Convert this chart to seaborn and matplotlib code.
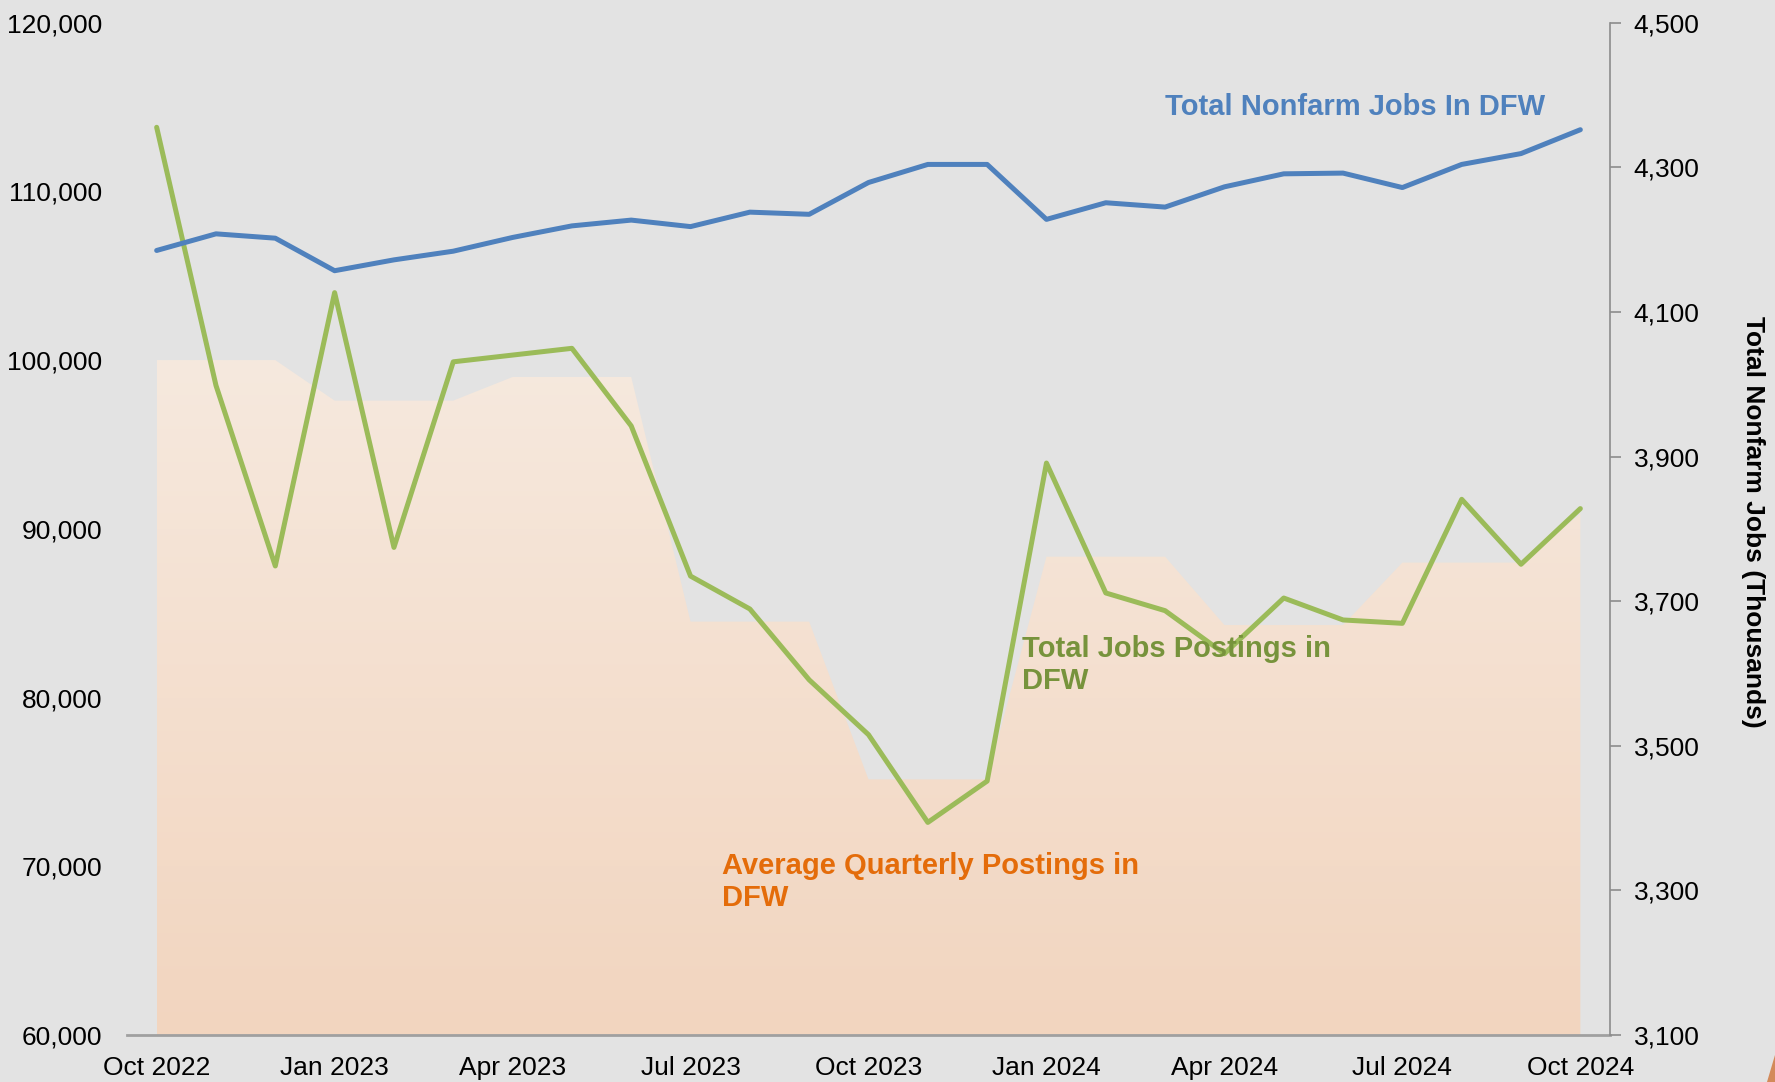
import numpy as np
import pandas as pd
import matplotlib
matplotlib.use("Agg")
import matplotlib.pyplot as plt
import seaborn as sns
from matplotlib.ticker import FuncFormatter
from matplotlib.colors import LinearSegmentedColormap
from matplotlib.patches import Polygon

# ---------------- data ----------------
months = ["Oct 2022", "Nov 2022", "Dec 2022", "Jan 2023", "Feb 2023", "Mar 2023",
          "Apr 2023", "May 2023", "Jun 2023", "Jul 2023", "Aug 2023", "Sep 2023",
          "Oct 2023", "Nov 2023", "Dec 2023", "Jan 2024", "Feb 2024", "Mar 2024",
          "Apr 2024", "May 2024", "Jun 2024", "Jul 2024", "Aug 2024", "Sep 2024",
          "Oct 2024"]
job_postings = [113800, 98500, 87800, 104000, 88900, 99900, 100300, 100700, 96100,
                87200, 85250, 81050, 77800, 72600, 75050, 93900, 86200, 85150,
                82600, 85900, 84600, 84400, 91750, 87900, 91200]
avg_quarterly_postings = [100000, 100000, 100000, 97600, 97600, 97600, 99000, 99000,
                          99000, 84500, 84500, 84500, 75150, 75150, 75150, 88350,
                          88350, 88350, 84300, 84300, 84300, 88000, 88000, 88000,
                          90900]
nonfarm_jobs = [4185, 4208, 4202, 4157, 4172, 4184, 4203, 4219, 4227, 4218, 4238,
                4235, 4279, 4304, 4304, 4228, 4251, 4245, 4273, 4291, 4292, 4272,
                4304, 4319, 4352]
x_tick_labels = ["Oct 2022", "Jan 2023", "Apr 2023", "Jul 2023", "Oct 2023",
                 "Jan 2024", "Apr 2024", "Jul 2024", "Oct 2024"]
left_ticks = [60000, 70000, 80000, 90000, 100000, 110000, 120000]
right_ticks = [3100, 3300, 3500, 3700, 3900, 4100, 4300, 4500]

# ---------------- style ----------------
sns.set_style("white")
plt.rcParams['font.family'] = ['Liberation Sans', 'DejaVu Sans']

BG = "#E3E3E3"
BLUE = "#4F81BD"
GREEN = "#9BBB59"
GREEN_TXT = "#77933C"
ORANGE_TXT = "#E46C0A"
AREA_TOP = "#F6E9DE"
AREA_BOTTOM = "#F2D5BF"

W, H = 1775, 1082
fig = plt.figure(figsize=(W / 100, H / 100), dpi=100, facecolor=BG)

left, right, top, bottom = 127, 1610, 22.7, 1035
ax = fig.add_axes([left / W, 1 - bottom / H, (right - left) / W, (bottom - top) / H])
ax.set_facecolor("none")

df = pd.DataFrame({
    "idx": np.arange(len(months)),
    "month": months,
    "postings": job_postings,
    "avg": avg_quarterly_postings,
    "nonfarm": nonfarm_jobs,
})

ymin, ymax = left_ticks[0], left_ticks[-1]

# area with vertical gradient
area = ax.fill_between(df["idx"], ymin, df["avg"], facecolor="none",
                       edgecolor="none", linewidth=0, zorder=1)
cmap = LinearSegmentedColormap.from_list("area", [AREA_BOTTOM, AREA_TOP])
grad = np.linspace(0, 1, 256).reshape(-1, 1)
im = ax.imshow(grad, extent=[df["idx"].min(), df["idx"].max(), ymin, max(avg_quarterly_postings)],
               origin="lower", aspect="auto", cmap=cmap, zorder=1, interpolation="bilinear")
im.set_clip_path(area.get_paths()[0], ax.transData)

# green postings line
sns.lineplot(data=df, x="idx", y="postings", ax=ax, color=GREEN, linewidth=3.6,
             zorder=3, solid_capstyle="round", solid_joinstyle="round")

ax.set_xlim(-0.5, len(months) - 0.5)
ax.set_ylim(ymin, ymax)
ax.set_xlabel("")
ax.set_ylabel("")

# right axis: blue nonfarm jobs
ax2 = ax.twinx()
sns.lineplot(data=df, x="idx", y="nonfarm", ax=ax2, color=BLUE, linewidth=3.6,
             zorder=3, solid_capstyle="round", solid_joinstyle="round")
ax2.set_ylim(right_ticks[0], right_ticks[-1])
ax2.set_xlim(-0.5, len(months) - 0.5)
ax2.set_xlabel("")
ax2.set_ylabel("")
ax2.set_facecolor("none")

comma = FuncFormatter(lambda v, p: f"{int(v):,}")

# left axis ticks
ax.set_yticks(left_ticks)
ax.yaxis.set_major_formatter(comma)
ax.tick_params(axis="y", length=0, pad=18, labelsize=19, labelcolor="black")

# x ticks: marks at category boundaries, labels at quarter months
ax.set_xticks(np.arange(-0.5, len(months), 1.0))
ax.set_xticklabels([])
ax.tick_params(axis="x", which="major", length=7, width=1.2, color="#A0A0A0",
               direction="out")
ax.set_xticks([months.index(m) for m in x_tick_labels], minor=True)
ax.set_xticklabels(x_tick_labels, minor=True)
ax.tick_params(axis="x", which="minor", length=0, pad=15, labelsize=19,
               labelcolor="black")

# right axis ticks
ax2.set_yticks(right_ticks)
ax2.yaxis.set_major_formatter(comma)
ax2.tick_params(axis="y", length=8, width=1.2, color="#8C8C8C", direction="out",
                pad=9, labelsize=19, labelcolor="black")

for s in ["left", "top", "right"]:
    ax.spines[s].set_visible(False)
ax.spines["bottom"].set_color("#A0A0A0")
ax.spines["bottom"].set_linewidth(2)
for s in ["left", "top", "bottom"]:
    ax2.spines[s].set_visible(False)
ax2.spines["right"].set_color("#8C8C8C")
ax2.spines["right"].set_linewidth(1.2)

# right axis title
fig.text(1753 / W, 1 - 522 / H, "Total Nonfarm Jobs (Thousands)", rotation=270,
         ha="center", va="center", fontsize=19, fontweight="bold", color="black")

# series annotations
fig.text(1165 / W, 1 - 107 / H, "Total Nonfarm Jobs In DFW", color=BLUE,
         fontsize=21, fontweight="bold", ha="left", va="center")
fig.text(1022 / W, 1 - 665 / H, "Total Jobs Postings in\nDFW", color=GREEN_TXT,
         fontsize=21, fontweight="bold", ha="left", va="center")
fig.text(722 / W, 1 - 882 / H, "Average Quarterly Postings in\nDFW", color=ORANGE_TXT,
         fontsize=21, fontweight="bold", ha="left", va="center")

# small decorative corner shape
fig.patches.append(Polygon([(1767 / W, 0), (1775 / W, 27 / H), (1775 / W, 0)],
                           closed=True, transform=fig.transFigure,
                           facecolor="#D38A5A", edgecolor="none"))

fig.savefig("out.png", dpi=100, facecolor=BG)
